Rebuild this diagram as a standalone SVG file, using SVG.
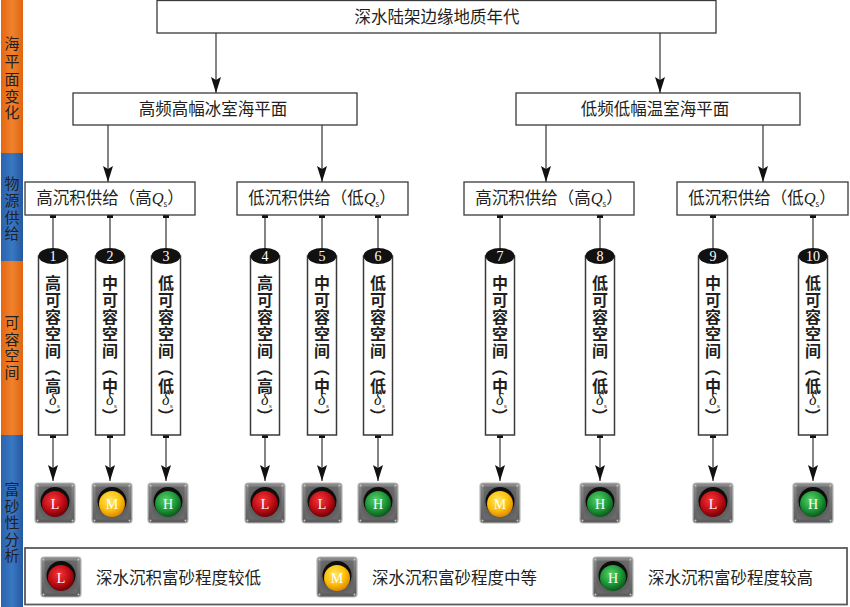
<svg xmlns="http://www.w3.org/2000/svg" xmlns:xlink="http://www.w3.org/1999/xlink" width="850" height="607" viewBox="0 0 850 607">
<style>
.box{fill:#fff;stroke:#3a3a3a;stroke-width:1.3}
.t{font-family:"Noto Sans CJK SC","Liberation Sans",sans-serif;font-size:16.5px;fill:#231f20}
.side{font-family:"Noto Sans CJK SC",sans-serif;font-size:15px;fill:#231f20;text-anchor:middle}
.cyl{fill:#fff;stroke:#3a3a3a;stroke-width:1.5}
.cap{fill:#111}
.num{font-family:"Liberation Serif",serif;font-size:14px;fill:#fff;text-anchor:middle}
.vt{font-family:"Noto Sans CJK SC",sans-serif;font-size:16px;font-weight:700;fill:#231f20;text-anchor:middle}
.d{font-family:"Liberation Serif",serif;font-style:italic;font-weight:400;font-size:16px;fill:#231f20}
.sb{font-family:"Liberation Serif",serif;font-style:normal;font-weight:400;font-size:7px}
.it{font-family:"Liberation Serif",serif;font-style:italic}
.lt{font-family:"Liberation Serif",serif;font-size:14px;fill:#fff;text-anchor:middle}
.ln{stroke:#333;stroke-width:1.2;fill:none}
</style>
<defs>
<linearGradient id="gOr" x1="0" x2="1" y1="0" y2="0"><stop offset="0" stop-color="#e5670f"/><stop offset="0.5" stop-color="#f0822e"/><stop offset="1" stop-color="#e26410"/></linearGradient>
<linearGradient id="gBl" x1="0" x2="1" y1="0" y2="0"><stop offset="0" stop-color="#2a62ad"/><stop offset="0.5" stop-color="#3a78c4"/><stop offset="1" stop-color="#24589f"/></linearGradient>
<linearGradient id="gBox" x1="0" x2="0" y1="0" y2="1"><stop offset="0" stop-color="#8a8a8a"/><stop offset="1" stop-color="#5a5a5a"/></linearGradient>
<radialGradient id="gIn" cx="0.5" cy="0.5" r="0.6"><stop offset="0" stop-color="#3e3e3e"/><stop offset="1" stop-color="#6a6a6a"/></radialGradient>
<radialGradient id="gR" cx="0.42" cy="0.35" r="0.65"><stop offset="0" stop-color="#f23a3a"/><stop offset="0.6" stop-color="#c30d16"/><stop offset="1" stop-color="#6e0208"/></radialGradient>
<radialGradient id="gY" cx="0.42" cy="0.35" r="0.65"><stop offset="0" stop-color="#ffe766"/><stop offset="0.6" stop-color="#fdc10a"/><stop offset="1" stop-color="#e08a00"/></radialGradient>
<radialGradient id="gG" cx="0.42" cy="0.35" r="0.65"><stop offset="0" stop-color="#5fd070"/><stop offset="0.6" stop-color="#1c9a36"/><stop offset="1" stop-color="#0a5a1c"/></radialGradient>
<g id="base">
<rect x="-20" y="-20" width="40" height="40" rx="3" fill="url(#gBox)" stroke="#b8b8b8" stroke-width="1.2"/>
<rect x="-16.5" y="-16.5" width="33" height="33" rx="2" fill="url(#gIn)"/>
<circle cx="-17.5" cy="-17.5" r="1" fill="#c8c8c8"/><circle cx="17.5" cy="-17.5" r="1" fill="#c8c8c8"/>
<circle cx="-17.5" cy="17.5" r="1" fill="#c8c8c8"/><circle cx="17.5" cy="17.5" r="1" fill="#c8c8c8"/>
<circle cx="0" cy="-1.5" r="14.5" fill="#0d0d0d"/>
</g>
<g id="lampL"><use xlink:href="#base"/><circle cx="0" cy="1" r="13" fill="url(#gR)"/></g>
<g id="lampM"><use xlink:href="#base"/><circle cx="0" cy="1" r="13" fill="url(#gY)"/></g>
<g id="lampH"><use xlink:href="#base"/><circle cx="0" cy="1" r="13" fill="url(#gG)"/></g>
<marker id="arr" markerUnits="userSpaceOnUse" markerWidth="16" markerHeight="10" refX="16" refY="5" orient="auto"><path d="M0,0 L16,5 L0,10 L3,5 z" fill="#111"/></marker>
<marker id="sq" markerUnits="userSpaceOnUse" markerWidth="6" markerHeight="6" refX="3" refY="3" orient="auto"><rect x="0" y="0" width="6" height="6" fill="#111"/></marker>
</defs>

<g id="sidebar">
<rect x="1" y="0" width="22" height="153" fill="url(#gOr)"/>
<rect x="1" y="153" width="22" height="108" fill="url(#gBl)"/>
<rect x="1" y="261" width="22" height="174" fill="url(#gOr)"/>
<rect x="1" y="435" width="22" height="172" fill="url(#gBl)"/>
<text class="side"><tspan x="12" y="49">海</tspan><tspan x="12" y="67">平</tspan><tspan x="12" y="85">面</tspan><tspan x="12" y="102">变</tspan><tspan x="12" y="118">化</tspan></text>
<text class="side"><tspan x="12" y="189">物</tspan><tspan x="12" y="206">源</tspan><tspan x="12" y="223">供</tspan><tspan x="12" y="239">给</tspan></text>
<text class="side"><tspan x="12" y="328">可</tspan><tspan x="12" y="345">容</tspan><tspan x="12" y="361">空</tspan><tspan x="12" y="378">间</tspan></text>
<text class="side"><tspan x="12" y="495">富</tspan><tspan x="12" y="512">砂</tspan><tspan x="12" y="528">性</tspan><tspan x="12" y="545">分</tspan><tspan x="12" y="561">析</tspan></text>
</g>

<g id="connectors">
<line class="ln" x1="216" y1="33" x2="216" y2="93" marker-end="url(#arr)"/>
<line class="ln" x1="660" y1="33" x2="660" y2="93" marker-end="url(#arr)"/>
<line class="ln" x1="108" y1="125" x2="108" y2="182" marker-end="url(#arr)"/>
<line class="ln" x1="322" y1="125" x2="322" y2="182" marker-end="url(#arr)"/>
<line class="ln" x1="546" y1="125" x2="546" y2="182" marker-end="url(#arr)"/>
<line class="ln" x1="763" y1="125" x2="763" y2="182" marker-end="url(#arr)"/>
<line class="ln" x1="53" y1="215" x2="53" y2="250" marker-start="url(#sq)"/>
<line class="ln" x1="110" y1="215" x2="110" y2="250" marker-start="url(#sq)"/>
<line class="ln" x1="166" y1="215" x2="166" y2="250" marker-start="url(#sq)"/>
<line class="ln" x1="265" y1="215" x2="265" y2="250" marker-start="url(#sq)"/>
<line class="ln" x1="322" y1="215" x2="322" y2="250" marker-start="url(#sq)"/>
<line class="ln" x1="378" y1="215" x2="378" y2="250" marker-start="url(#sq)"/>
<line class="ln" x1="500" y1="215" x2="500" y2="250" marker-start="url(#sq)"/>
<line class="ln" x1="600" y1="215" x2="600" y2="250" marker-start="url(#sq)"/>
<line class="ln" x1="713" y1="215" x2="713" y2="250" marker-start="url(#sq)"/>
<line class="ln" x1="813" y1="215" x2="813" y2="250" marker-start="url(#sq)"/>
<line class="ln" x1="53" y1="435" x2="53" y2="481" marker-start="url(#sq)" marker-end="url(#arr)"/>
<line class="ln" x1="110" y1="435" x2="110" y2="481" marker-start="url(#sq)" marker-end="url(#arr)"/>
<line class="ln" x1="166" y1="435" x2="166" y2="481" marker-start="url(#sq)" marker-end="url(#arr)"/>
<line class="ln" x1="265" y1="435" x2="265" y2="481" marker-start="url(#sq)" marker-end="url(#arr)"/>
<line class="ln" x1="322" y1="435" x2="322" y2="481" marker-start="url(#sq)" marker-end="url(#arr)"/>
<line class="ln" x1="378" y1="435" x2="378" y2="481" marker-start="url(#sq)" marker-end="url(#arr)"/>
<line class="ln" x1="500" y1="435" x2="500" y2="481" marker-start="url(#sq)" marker-end="url(#arr)"/>
<line class="ln" x1="600" y1="435" x2="600" y2="481" marker-start="url(#sq)" marker-end="url(#arr)"/>
<line class="ln" x1="713" y1="435" x2="713" y2="481" marker-start="url(#sq)" marker-end="url(#arr)"/>
<line class="ln" x1="813" y1="435" x2="813" y2="481" marker-start="url(#sq)" marker-end="url(#arr)"/>
</g>

<g id="n-top"><rect class="box" x="157" y="0.5" width="559" height="32.5"/><text class="t" x="437" y="23" text-anchor="middle">深水陆架边缘地质年代</text></g>
<g id="n-icehouse"><rect class="box" x="73" y="93" width="284" height="32"/><text class="t" x="213" y="115" text-anchor="middle">高频高幅冰室海平面</text></g>
<g id="n-greenhouse"><rect class="box" x="516" y="93" width="284" height="32"/><text class="t" x="655" y="115" text-anchor="middle">低频低幅温室海平面</text></g>

<g id="n-qa"><rect class="box" x="25" y="182" width="170" height="33"/><text class="t" x="110" y="204" text-anchor="middle" font-size="16">高沉积供给（高<tspan class="it">Q</tspan><tspan font-size="8" dy="3">s</tspan><tspan dy="-3">）</tspan></text></g>
<g id="n-qb"><rect class="box" x="237" y="182" width="171" height="33"/><text class="t" x="322" y="204" text-anchor="middle">低沉积供给（低<tspan class="it">Q</tspan><tspan font-size="8" dy="3">s</tspan><tspan dy="-3">）</tspan></text></g>
<g id="n-qc"><rect class="box" x="464" y="182" width="170" height="33"/><text class="t" x="549" y="204" text-anchor="middle">高沉积供给（高<tspan class="it">Q</tspan><tspan font-size="8" dy="3">s</tspan><tspan dy="-3">）</tspan></text></g>
<g id="n-qd"><rect class="box" x="677" y="182" width="171" height="33"/><text class="t" x="762" y="204" text-anchor="middle">低沉积供给（低<tspan class="it">Q</tspan><tspan font-size="8" dy="3">s</tspan><tspan dy="-3">）</tspan></text></g>

<g id="c1" transform="translate(53,0)"><rect class="cyl" x="-14.5" y="256" width="29" height="179"/><ellipse class="cap" cx="0" cy="256" rx="14.5" ry="8"/><text class="num" x="0" y="261">1</text>
<text class="vt"><tspan x="0" y="289">高</tspan><tspan x="0" y="306">可</tspan><tspan x="0" y="323">容</tspan><tspan x="0" y="340">空</tspan><tspan x="0" y="357">间</tspan></text>
<text class="vt" x="0" y="374" transform="rotate(90 0 368)">（</text><text class="vt" x="0" y="392">高</text><text class="d" x="-4" y="405">δ<tspan class="sb" x="4" y="408">s</tspan></text><text class="vt" x="0" y="422" transform="rotate(90 0 416)">）</text></g>
<g id="c2" transform="translate(110,0)"><rect class="cyl" x="-14.5" y="256" width="29" height="179"/><ellipse class="cap" cx="0" cy="256" rx="14.5" ry="8"/><text class="num" x="0" y="261">2</text>
<text class="vt"><tspan x="0" y="289">中</tspan><tspan x="0" y="306">可</tspan><tspan x="0" y="323">容</tspan><tspan x="0" y="340">空</tspan><tspan x="0" y="357">间</tspan></text>
<text class="vt" x="0" y="374" transform="rotate(90 0 368)">（</text><text class="vt" x="0" y="392">中</text><text class="d" x="-4" y="405">δ<tspan class="sb" x="4" y="408">s</tspan></text><text class="vt" x="0" y="422" transform="rotate(90 0 416)">）</text></g>
<g id="c3" transform="translate(166,0)"><rect class="cyl" x="-14.5" y="256" width="29" height="179"/><ellipse class="cap" cx="0" cy="256" rx="14.5" ry="8"/><text class="num" x="0" y="261">3</text>
<text class="vt"><tspan x="0" y="289">低</tspan><tspan x="0" y="306">可</tspan><tspan x="0" y="323">容</tspan><tspan x="0" y="340">空</tspan><tspan x="0" y="357">间</tspan></text>
<text class="vt" x="0" y="374" transform="rotate(90 0 368)">（</text><text class="vt" x="0" y="392">低</text><text class="d" x="-4" y="405">δ<tspan class="sb" x="4" y="408">s</tspan></text><text class="vt" x="0" y="422" transform="rotate(90 0 416)">）</text></g>
<g id="c4" transform="translate(265,0)"><rect class="cyl" x="-14.5" y="256" width="29" height="179"/><ellipse class="cap" cx="0" cy="256" rx="14.5" ry="8"/><text class="num" x="0" y="261">4</text>
<text class="vt"><tspan x="0" y="289">高</tspan><tspan x="0" y="306">可</tspan><tspan x="0" y="323">容</tspan><tspan x="0" y="340">空</tspan><tspan x="0" y="357">间</tspan></text>
<text class="vt" x="0" y="374" transform="rotate(90 0 368)">（</text><text class="vt" x="0" y="392">高</text><text class="d" x="-4" y="405">δ<tspan class="sb" x="4" y="408">s</tspan></text><text class="vt" x="0" y="422" transform="rotate(90 0 416)">）</text></g>
<g id="c5" transform="translate(322,0)"><rect class="cyl" x="-14.5" y="256" width="29" height="179"/><ellipse class="cap" cx="0" cy="256" rx="14.5" ry="8"/><text class="num" x="0" y="261">5</text>
<text class="vt"><tspan x="0" y="289">中</tspan><tspan x="0" y="306">可</tspan><tspan x="0" y="323">容</tspan><tspan x="0" y="340">空</tspan><tspan x="0" y="357">间</tspan></text>
<text class="vt" x="0" y="374" transform="rotate(90 0 368)">（</text><text class="vt" x="0" y="392">中</text><text class="d" x="-4" y="405">δ<tspan class="sb" x="4" y="408">s</tspan></text><text class="vt" x="0" y="422" transform="rotate(90 0 416)">）</text></g>
<g id="c6" transform="translate(378,0)"><rect class="cyl" x="-14.5" y="256" width="29" height="179"/><ellipse class="cap" cx="0" cy="256" rx="14.5" ry="8"/><text class="num" x="0" y="261">6</text>
<text class="vt"><tspan x="0" y="289">低</tspan><tspan x="0" y="306">可</tspan><tspan x="0" y="323">容</tspan><tspan x="0" y="340">空</tspan><tspan x="0" y="357">间</tspan></text>
<text class="vt" x="0" y="374" transform="rotate(90 0 368)">（</text><text class="vt" x="0" y="392">低</text><text class="d" x="-4" y="405">δ<tspan class="sb" x="4" y="408">s</tspan></text><text class="vt" x="0" y="422" transform="rotate(90 0 416)">）</text></g>
<g id="c7" transform="translate(500,0)"><rect class="cyl" x="-14.5" y="256" width="29" height="179"/><ellipse class="cap" cx="0" cy="256" rx="14.5" ry="8"/><text class="num" x="0" y="261">7</text>
<text class="vt"><tspan x="0" y="289">中</tspan><tspan x="0" y="306">可</tspan><tspan x="0" y="323">容</tspan><tspan x="0" y="340">空</tspan><tspan x="0" y="357">间</tspan></text>
<text class="vt" x="0" y="374" transform="rotate(90 0 368)">（</text><text class="vt" x="0" y="392">中</text><text class="d" x="-4" y="405">δ<tspan class="sb" x="4" y="408">s</tspan></text><text class="vt" x="0" y="422" transform="rotate(90 0 416)">）</text></g>
<g id="c8" transform="translate(600,0)"><rect class="cyl" x="-14.5" y="256" width="29" height="179"/><ellipse class="cap" cx="0" cy="256" rx="14.5" ry="8"/><text class="num" x="0" y="261">8</text>
<text class="vt"><tspan x="0" y="289">低</tspan><tspan x="0" y="306">可</tspan><tspan x="0" y="323">容</tspan><tspan x="0" y="340">空</tspan><tspan x="0" y="357">间</tspan></text>
<text class="vt" x="0" y="374" transform="rotate(90 0 368)">（</text><text class="vt" x="0" y="392">低</text><text class="d" x="-4" y="405">δ<tspan class="sb" x="4" y="408">s</tspan></text><text class="vt" x="0" y="422" transform="rotate(90 0 416)">）</text></g>
<g id="c9" transform="translate(713,0)"><rect class="cyl" x="-14.5" y="256" width="29" height="179"/><ellipse class="cap" cx="0" cy="256" rx="14.5" ry="8"/><text class="num" x="0" y="261">9</text>
<text class="vt"><tspan x="0" y="289">中</tspan><tspan x="0" y="306">可</tspan><tspan x="0" y="323">容</tspan><tspan x="0" y="340">空</tspan><tspan x="0" y="357">间</tspan></text>
<text class="vt" x="0" y="374" transform="rotate(90 0 368)">（</text><text class="vt" x="0" y="392">中</text><text class="d" x="-4" y="405">δ<tspan class="sb" x="4" y="408">s</tspan></text><text class="vt" x="0" y="422" transform="rotate(90 0 416)">）</text></g>
<g id="c10" transform="translate(813,0)"><rect class="cyl" x="-14.5" y="256" width="29" height="179"/><ellipse class="cap" cx="0" cy="256" rx="14.5" ry="8"/><text class="num" x="0" y="261">10</text>
<text class="vt"><tspan x="0" y="289">低</tspan><tspan x="0" y="306">可</tspan><tspan x="0" y="323">容</tspan><tspan x="0" y="340">空</tspan><tspan x="0" y="357">间</tspan></text>
<text class="vt" x="0" y="374" transform="rotate(90 0 368)">（</text><text class="vt" x="0" y="392">低</text><text class="d" x="-4" y="405">δ<tspan class="sb" x="4" y="408">s</tspan></text><text class="vt" x="0" y="422" transform="rotate(90 0 416)">）</text></g>

<g id="lamp1" transform="translate(55,503)"><use xlink:href="#lampL"/><text class="lt" x="0" y="6">L</text></g>
<g id="lamp2" transform="translate(112,503)"><use xlink:href="#lampM"/><text class="lt" x="0" y="6">M</text></g>
<g id="lamp3" transform="translate(168,503)"><use xlink:href="#lampH"/><text class="lt" x="0" y="6">H</text></g>
<g id="lamp4" transform="translate(265,503)"><use xlink:href="#lampL"/><text class="lt" x="0" y="6">L</text></g>
<g id="lamp5" transform="translate(322,503)"><use xlink:href="#lampL"/><text class="lt" x="0" y="6">L</text></g>
<g id="lamp6" transform="translate(378,503)"><use xlink:href="#lampH"/><text class="lt" x="0" y="6">H</text></g>
<g id="lamp7" transform="translate(500,503)"><use xlink:href="#lampM"/><text class="lt" x="0" y="6">M</text></g>
<g id="lamp8" transform="translate(600,503)"><use xlink:href="#lampH"/><text class="lt" x="0" y="6">H</text></g>
<g id="lamp9" transform="translate(713,503)"><use xlink:href="#lampL"/><text class="lt" x="0" y="6">L</text></g>
<g id="lamp10" transform="translate(813,503)"><use xlink:href="#lampH"/><text class="lt" x="0" y="6">H</text></g>

<g id="legend">
<rect x="25" y="548" width="822" height="56.5" fill="#fff" stroke="#5a5a5a" stroke-width="1.8"/>
<g transform="translate(61,577)"><use xlink:href="#lampL"/><text class="lt" x="0" y="6">L</text></g>
<text class="t" x="96" y="584">深水沉积富砂程度较低</text>
<g transform="translate(337,577)"><use xlink:href="#lampM"/><text class="lt" x="0" y="6">M</text></g>
<text class="t" x="372" y="584">深水沉积富砂程度中等</text>
<g transform="translate(613,577)"><use xlink:href="#lampH"/><text class="lt" x="0" y="6">H</text></g>
<text class="t" x="648" y="584">深水沉积富砂程度较高</text>
</g>
</svg>
